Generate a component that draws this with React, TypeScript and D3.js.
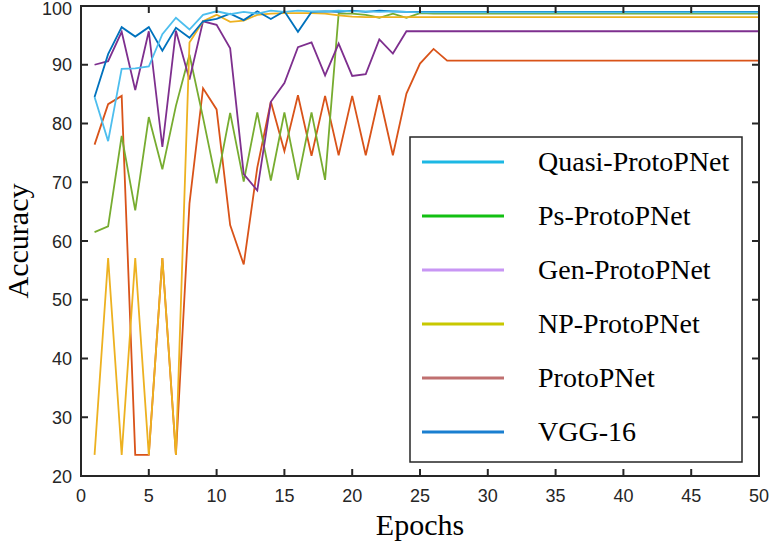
import React from "react";
import * as d3 from "d3";

const epochs = Array.from({ length: 50 }, (_, i) => i + 1);

const protoPNet = [76.4, 83.3, 84.7, 23.6, 23.6, 57.1, 23.6, 66.4, 86.0, 82.4, 62.7, 56.0, 72.5, 83.7, 75.3, 84.8, 74.5, 84.7, 74.6, 84.7, 74.6, 84.8, 74.6, 85.1, 90.2, 92.7, 90.7, 90.7, 90.7, 90.7, 90.7, 90.7, 90.7, 90.7, 90.7, 90.7, 90.7, 90.7, 90.7, 90.7, 90.7, 90.7, 90.7, 90.7, 90.7, 90.7, 90.7, 90.7, 90.7, 90.7];
const psProtoPNet = [61.5, 62.5, 77.9, 65.2, 81.1, 72.2, 83.0, 91.7, 81.0, 69.8, 81.8, 70.1, 81.9, 70.3, 81.9, 70.4, 81.9, 70.4, 98.7, 98.7, 98.5, 98.0, 98.7, 98.0, 98.8, 98.7, 98.7, 98.7, 98.7, 98.7, 98.7, 98.7, 98.7, 98.7, 98.7, 98.7, 98.7, 98.7, 98.7, 98.7, 98.7, 98.7, 98.7, 98.7, 98.7, 98.7, 98.7, 98.7, 98.7, 98.7];
const genProtoPNet = [90.0, 90.6, 95.6, 85.7, 95.7, 76.0, 95.8, 87.5, 97.4, 96.8, 92.8, 71.4, 68.6, 83.7, 86.9, 93.0, 93.8, 88.2, 93.6, 88.1, 88.4, 94.3, 91.9, 95.7, 95.7, 95.7, 95.7, 95.7, 95.7, 95.7, 95.7, 95.7, 95.7, 95.7, 95.7, 95.7, 95.7, 95.7, 95.7, 95.7, 95.7, 95.7, 95.7, 95.7, 95.7, 95.7, 95.7, 95.7, 95.7, 95.7];
const npProtoPNet = [23.6, 57.1, 23.6, 57.1, 23.6, 57.1, 23.6, 93.8, 97.4, 98.5, 97.3, 97.5, 98.5, 98.7, 98.8, 98.8, 98.8, 98.7, 98.4, 98.2, 98.1, 98.1, 98.1, 98.1, 98.1, 98.1, 98.1, 98.1, 98.1, 98.1, 98.1, 98.1, 98.1, 98.1, 98.1, 98.1, 98.1, 98.1, 98.1, 98.1, 98.1, 98.1, 98.1, 98.1, 98.1, 98.1, 98.1, 98.1, 98.1, 98.1];
const vgg16 = [84.5, 91.8, 96.4, 94.8, 96.4, 92.4, 96.3, 94.6, 97.4, 97.8, 98.7, 97.6, 99.1, 97.8, 99.1, 95.6, 99.0, 99.1, 99.0, 99.2, 99.0, 99.2, 99.1, 99.0, 99.0, 99.0, 99.0, 99.0, 99.0, 99.0, 99.0, 99.0, 99.0, 99.0, 99.0, 99.0, 99.0, 99.0, 99.0, 99.0, 99.0, 99.0, 99.0, 99.0, 99.0, 99.0, 99.0, 99.0, 99.0, 99.0];
const quasiProtoPNet = [84.5, 77.0, 89.3, 89.4, 89.7, 95.2, 98.0, 96.0, 98.5, 99.1, 98.6, 99.0, 98.7, 99.2, 99.0, 99.2, 99.1, 99.1, 99.2, 99.1, 99.1, 99.0, 99.1, 99.0, 98.9, 98.9, 98.9, 98.9, 98.9, 98.9, 98.9, 98.9, 98.9, 98.9, 98.9, 98.9, 98.9, 98.9, 98.9, 98.9, 98.9, 98.9, 98.9, 98.9, 98.9, 98.9, 98.9, 98.9, 98.9, 98.9];

const xTicks = [0, 5, 10, 15, 20, 25, 30, 35, 40, 45, 50];
const yTicks = [20, 30, 40, 50, 60, 70, 80, 90, 100];

const lineSeries = [
  { name: "ProtoPNet", values: protoPNet, color: "#D95319" },
  { name: "Ps-ProtoPNet", values: psProtoPNet, color: "#77AC30" },
  { name: "Gen-ProtoPNet", values: genProtoPNet, color: "#7E2F8E" },
  { name: "NP-ProtoPNet", values: npProtoPNet, color: "#EDB120" },
  { name: "VGG-16", values: vgg16, color: "#0072BD" },
  { name: "Quasi-ProtoPNet", values: quasiProtoPNet, color: "#4DBEEE" },
];

const legendNames = ["Quasi-ProtoPNet", "Ps-ProtoPNet", "Gen-ProtoPNet", "NP-ProtoPNet", "ProtoPNet", "VGG-16"];
const legendColors = ["#1CB8E4", "#12C012", "#C896F4", "#C8C800", "#C07070", "#1A7FD0"];

export default function App() {
  const W = 773, H = 545;
  const L = 81, R = 759, T = 6, B = 476;
  const x = d3.scaleLinear().domain([0, 50]).range([L, R]);
  const y = d3.scaleLinear().domain([20, 100]).range([B, T]);
  const line = d3.line<number>().x((_, i) => x(epochs[i])).y((d) => y(d));
  const axisColor = "#262626";
  const tickLen = 7;

  const legL = 410, legT = 137, legR = 742, legB = 462;
  const legRow0 = 162, legStep = 54;

  return (
    <svg width={W} height={H} style={{ position: "absolute", left: 0, top: 0, background: "#fff" }}>
      <rect x={0} y={0} width={W} height={H} fill="#fff" />
      {lineSeries.map((s) => (
        <path key={s.name} d={line(s.values) || ""} fill="none" stroke={s.color} strokeWidth={1.8} strokeLinejoin="miter" />
      ))}
      <rect x={L} y={T} width={R - L} height={B - T} fill="none" stroke={axisColor} strokeWidth={2} />
      {xTicks.map((t) => (
        <g key={"x" + t}>
          <line x1={x(t)} x2={x(t)} y1={B} y2={B - tickLen} stroke={axisColor} strokeWidth={2} />
          <line x1={x(t)} x2={x(t)} y1={T} y2={T + tickLen} stroke={axisColor} strokeWidth={2} />
          <text x={x(t)} y={502} textAnchor="middle" fontFamily="Liberation Sans, Arial, sans-serif" fontSize={18} fill={axisColor}>{t}</text>
        </g>
      ))}
      {yTicks.map((t) => (
        <g key={"y" + t}>
          <line x1={L} x2={L + tickLen} y1={y(t)} y2={y(t)} stroke={axisColor} strokeWidth={2} />
          <line x1={R} x2={R - tickLen} y1={y(t)} y2={y(t)} stroke={axisColor} strokeWidth={2} />
          <text x={72} y={Math.max(y(t) + 6.5, 15)} textAnchor="end" fontFamily="Liberation Sans, Arial, sans-serif" fontSize={18} fill={axisColor}>{t}</text>
        </g>
      ))}
      <text x={(L + R) / 2} y={535} textAnchor="middle" fontFamily="Liberation Serif, Times New Roman, serif" fontSize={30} fill="#000">Epochs</text>
      <text transform={`translate(28, ${(T + B) / 2}) rotate(-90)`} textAnchor="middle" fontFamily="Liberation Serif, Times New Roman, serif" fontSize={30} fill="#000">Accuracy</text>
      <rect x={legL} y={legT} width={legR - legL} height={legB - legT} fill="#fff" stroke={axisColor} strokeWidth={1.5} />
      {legendNames.map((n, i) => (
        <g key={n}>
          <line x1={422} x2={504} y1={legRow0 + i * legStep} y2={legRow0 + i * legStep} stroke={legendColors[i]} strokeWidth={3} />
          <text x={538} y={legRow0 + i * legStep + 9} fontFamily="Liberation Serif, Times New Roman, serif" fontSize={28} fill="#000">{n}</text>
        </g>
      ))}
    </svg>
  );
}
